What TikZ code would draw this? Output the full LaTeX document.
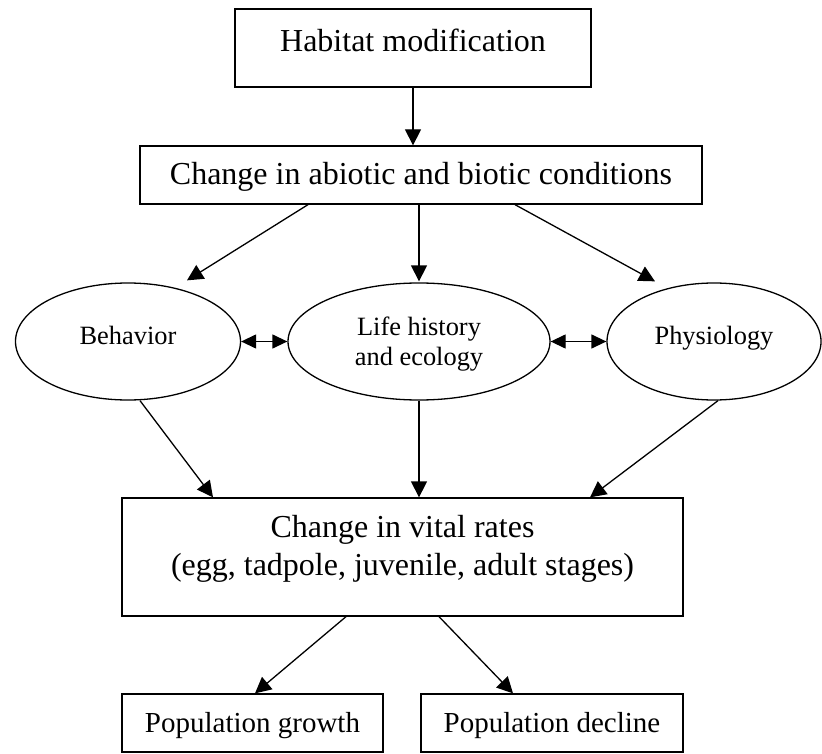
\documentclass[tikz,border=0pt]{standalone}
\usepackage{fontspec}
\setmainfont{Liberation Serif}
\usetikzlibrary{shapes.geometric,arrows.meta,calc}

\begin{document}
\begin{tikzpicture}[
    x=0.5pt, y=-0.5pt,
    box/.style={draw, line width=0.65pt, rectangle, inner sep=0pt, align=center, font=\fontsize{16}{19}\selectfont},
    popbox/.style={box, font=\fontsize{14.5}{17}\selectfont, text height=19pt, text depth=10pt},
    oval/.style={draw, line width=0.65pt, ellipse, inner sep=0pt, minimum height=58.5pt, align=center, font=\fontsize{13.2}{15}\selectfont},
    arr/.style={-{Triangle[length=8pt,width=8pt]}, line width=0.65pt},
    dblarr/.style={{Triangle[length=7.5pt,width=7pt]}-{Triangle[length=7.5pt,width=7pt]}, line width=0.65pt}
]

\useasboundingbox (0,0) rectangle (822,753);

% Top boxes
\node[box, minimum width=178pt, text height=21.5pt, text depth=17.5pt] (habitat) at (413,48) {Habitat modification};
\node[box, minimum width=281pt, text height=19.5pt, text depth=9.5pt] (abiotic) at (421,175) {Change in abiotic and biotic conditions};

% Organism responses
\node[oval, minimum width=112.5pt, text height=9pt, text depth=6pt] (behavior) at (128,341.5) {Behavior};
\node[oval, minimum width=131pt, text height=26pt, text depth=2.5pt] (life) at (419,341.5) {Life history\\and ecology};
\node[oval, minimum width=107pt, text height=9pt, text depth=6pt] (physio) at (714,341.5) {Physiology};

% Vital rates
\node[box, minimum width=280.5pt, text height=38.5pt, text depth=20.5pt] (vital) at (402.5,557) {Change in vital rates\\(egg, tadpole, juvenile, adult stages)};

% Population outcomes
\node[popbox, minimum width=130.5pt] (growth) at (252.5,723) {Population growth};
\node[popbox, minimum width=131pt] (decline) at (552,723) {Population decline};

% Arrows down the chain
\draw[arr] (habitat.south) -- (habitat.south |- abiotic.north);
\draw[arr] ($(abiotic.south)+(-113,0)$) -- ($(behavior.north)+(59,-2)$);
\draw[arr] (abiotic.south -| life.north) -- ($(life.north)+(0,-1)$);
\draw[arr] ($(abiotic.south)+(94,0)$) -- ($(physio.north)+(-59,-1)$);

% Interactions
\draw[dblarr] (behavior.east) -- (life.west);
\draw[dblarr] (life.east) -- (physio.west);

% Into vital rates
\draw[arr] ($(behavior.south)+(12,0)$) -- ($(vital.north)+(-189.5,0)$);
\draw[arr] (life.south) -- (life.south |- vital.north);
\draw[arr] ($(physio.south)+(4,0)$) -- ($(vital.north)+(187.5,0)$);

% Outcomes
\draw[arr] ($(vital.south)+(-56.5,0)$) -- ($(growth.north)+(2.5,0)$);
\draw[arr] ($(vital.south)+(36.5,0)$) -- ($(decline.north)+(-39,0)$);

\end{tikzpicture}
\end{document}
